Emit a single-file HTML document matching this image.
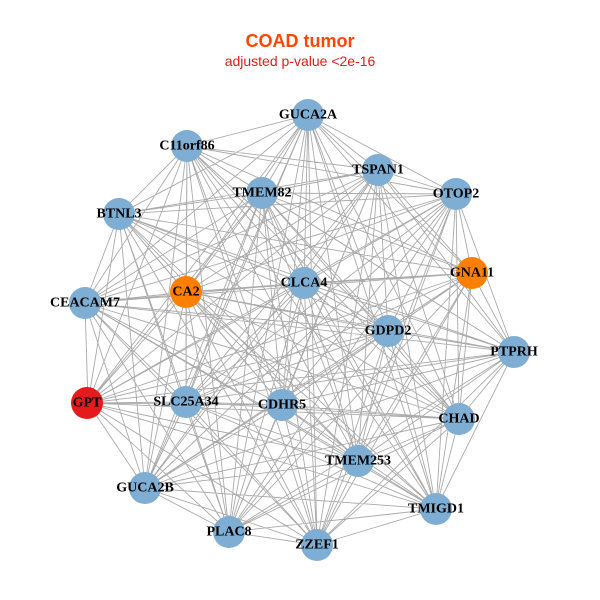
<!DOCTYPE html>
<html><head><meta charset="utf-8"><style>
html,body{margin:0;padding:0;background:#fff;}
svg{display:block;}
.l{font-family:"Liberation Serif",serif;font-weight:bold;font-size:14px;fill:#000;text-anchor:middle;dominant-baseline:central;}
</style></head><body>
<svg width="600" height="600" viewBox="0 0 600 600" xmlns="http://www.w3.org/2000/svg">
<rect width="600" height="600" fill="#fff"/>
<text x="300" y="47" text-anchor="middle" font-family="Liberation Sans, sans-serif" font-weight="bold" font-size="18" fill="#ff4500">COAD tumor</text>
<text x="300" y="66" text-anchor="middle" font-family="Liberation Sans, sans-serif" font-size="14" fill="#e41a1c">adjusted p-value &lt;2e-16</text>
<path fill="none" stroke="#aaaaaa" stroke-width="0.9" d="
M308 115L187 146 308 115 378 170 308 115 456 194 308 115 262 193 308 115 119 214 308 115 472 273 308 115 186 292 308 115 304 283 308 115 85 303 308 115 388 331 308 115 514 352 308 115 88 403 308 115 186 402 308 115 282 405 308 115 459 419 308 115 358 461 308 115 145 488 308 115 436 509 308 115 229 532 308 115 317 545
M187 146L378 170 187 146 456 194 187 146 262 193 187 146 119 214 187 146 472 273 187 146 186 292 187 146 304 283 187 146 85 303 187 146 388 331 187 146 514 352 187 146 88 403 187 146 186 402 187 146 282 405 187 146 459 419 187 146 358 461 187 146 145 488 187 146 436 509 187 146 229 532 187 146 317 545
M378 170L456 194 378 170 262 193 378 170 119 214 378 170 472 273 378 170 186 292 378 170 304 283 378 170 85 303 378 170 388 331 378 170 514 352 378 170 88 403 378 170 186 402 378 170 282 405 378 170 459 419 378 170 358 461 378 170 145 488 378 170 436 509 378 170 229 532 378 170 317 545
M456 194L262 193 456 194 119 214 456 194 472 273 456 194 186 292 456 194 304 283 456 194 85 303 456 194 388 331 456 194 514 352 456 194 88 403 456 194 186 402 456 194 282 405 456 194 459 419 456 194 358 461 456 194 145 488 456 194 436 509 456 194 229 532 456 194 317 545
M262 193L119 214 262 193 472 273 262 193 186 292 262 193 304 283 262 193 85 303 262 193 388 331 262 193 514 352 262 193 88 403 262 193 186 402 262 193 282 405 262 193 459 419 262 193 358 461 262 193 145 488 262 193 436 509 262 193 229 532 262 193 317 545
M119 214L472 273 119 214 186 292 119 214 304 283 119 214 85 303 119 214 388 331 119 214 514 352 119 214 88 403 119 214 186 402 119 214 282 405 119 214 459 419 119 214 358 461 119 214 145 488 119 214 436 509 119 214 229 532 119 214 317 545
M472 273L186 292 472 273 304 283 472 273 85 303 472 273 388 331 472 273 514 352 472 273 88 403 472 273 186 402 472 273 282 405 472 273 459 419 472 273 358 461 472 273 145 488 472 273 436 509 472 273 229 532 472 273 317 545
M186 292L304 283 186 292 85 303 186 292 388 331 186 292 514 352 186 292 88 403 186 292 186 402 186 292 282 405 186 292 459 419 186 292 358 461 186 292 145 488 186 292 436 509 186 292 229 532 186 292 317 545
M304 283L85 303 304 283 388 331 304 283 514 352 304 283 88 403 304 283 186 402 304 283 282 405 304 283 459 419 304 283 358 461 304 283 145 488 304 283 436 509 304 283 229 532 304 283 317 545
M85 303L388 331 85 303 514 352 85 303 88 403 85 303 186 402 85 303 282 405 85 303 459 419 85 303 358 461 85 303 145 488 85 303 436 509 85 303 229 532 85 303 317 545
M388 331L514 352 388 331 88 403 388 331 186 402 388 331 282 405 388 331 459 419 388 331 358 461 388 331 145 488 388 331 436 509 388 331 229 532 388 331 317 545
M514 352L88 403 514 352 186 402 514 352 282 405 514 352 459 419 514 352 358 461 514 352 145 488 514 352 436 509 514 352 229 532 514 352 317 545
M88 403L186 402 88 403 282 405 88 403 459 419 88 403 358 461 88 403 145 488 88 403 436 509 88 403 229 532 88 403 317 545
M186 402L282 405 186 402 459 419 186 402 358 461 186 402 145 488 186 402 436 509 186 402 229 532 186 402 317 545
M282 405L459 419 282 405 358 461 282 405 145 488 282 405 436 509 282 405 229 532 282 405 317 545
M459 419L358 461 459 419 145 488 459 419 436 509 459 419 229 532 459 419 317 545
M358 461L145 488 358 461 436 509 358 461 229 532 358 461 317 545
M145 488L436 509 145 488 229 532 145 488 317 545
M436 509L229 532 436 509 317 545
M229 532L317 545"/>
<g fill="#7eaed3">
<circle cx="308" cy="115" r="16"/><circle cx="187" cy="146" r="16"/><circle cx="378" cy="170" r="16"/><circle cx="456" cy="194" r="16"/><circle cx="262" cy="193" r="16"/><circle cx="119" cy="214" r="16"/><circle cx="304" cy="283" r="16"/><circle cx="85" cy="303" r="16"/><circle cx="388" cy="331" r="16"/><circle cx="514" cy="352" r="16"/><circle cx="186" cy="402" r="16"/><circle cx="282" cy="405" r="16"/><circle cx="459" cy="419" r="16"/><circle cx="358" cy="461" r="16"/><circle cx="145" cy="488" r="16"/><circle cx="436" cy="509" r="16"/><circle cx="229" cy="532" r="16"/><circle cx="317" cy="545" r="16"/>
</g>
<circle cx="472" cy="273" r="16" fill="#ff8000"/>
<circle cx="186" cy="292" r="16" fill="#ff8000"/>
<circle cx="87" cy="403" r="16" fill="#e41a1c"/>
<text class="l" x="308" y="115">GUCA2A</text>
<text class="l" x="187" y="146">C11orf86</text>
<text class="l" x="378" y="170">TSPAN1</text>
<text class="l" x="456" y="194">OTOP2</text>
<text class="l" x="262" y="193">TMEM82</text>
<text class="l" x="119" y="214">BTNL3</text>
<text class="l" x="472" y="273">GNA11</text>
<text class="l" x="186" y="292">CA2</text>
<text class="l" x="304" y="283">CLCA4</text>
<text class="l" x="85" y="303">CEACAM7</text>
<text class="l" x="388" y="331">GDPD2</text>
<text class="l" x="514" y="352">PTPRH</text>
<text class="l" x="87" y="403">GPT</text>
<text class="l" x="186" y="402">SLC25A34</text>
<text class="l" x="282" y="405">CDHR5</text>
<text class="l" x="459" y="419">CHAD</text>
<text class="l" x="358" y="461">TMEM253</text>
<text class="l" x="145" y="488">GUCA2B</text>
<text class="l" x="436" y="509">TMIGD1</text>
<text class="l" x="229" y="532">PLAC8</text>
<text class="l" x="317" y="545">ZZEF1</text>
</svg>
</body></html>
